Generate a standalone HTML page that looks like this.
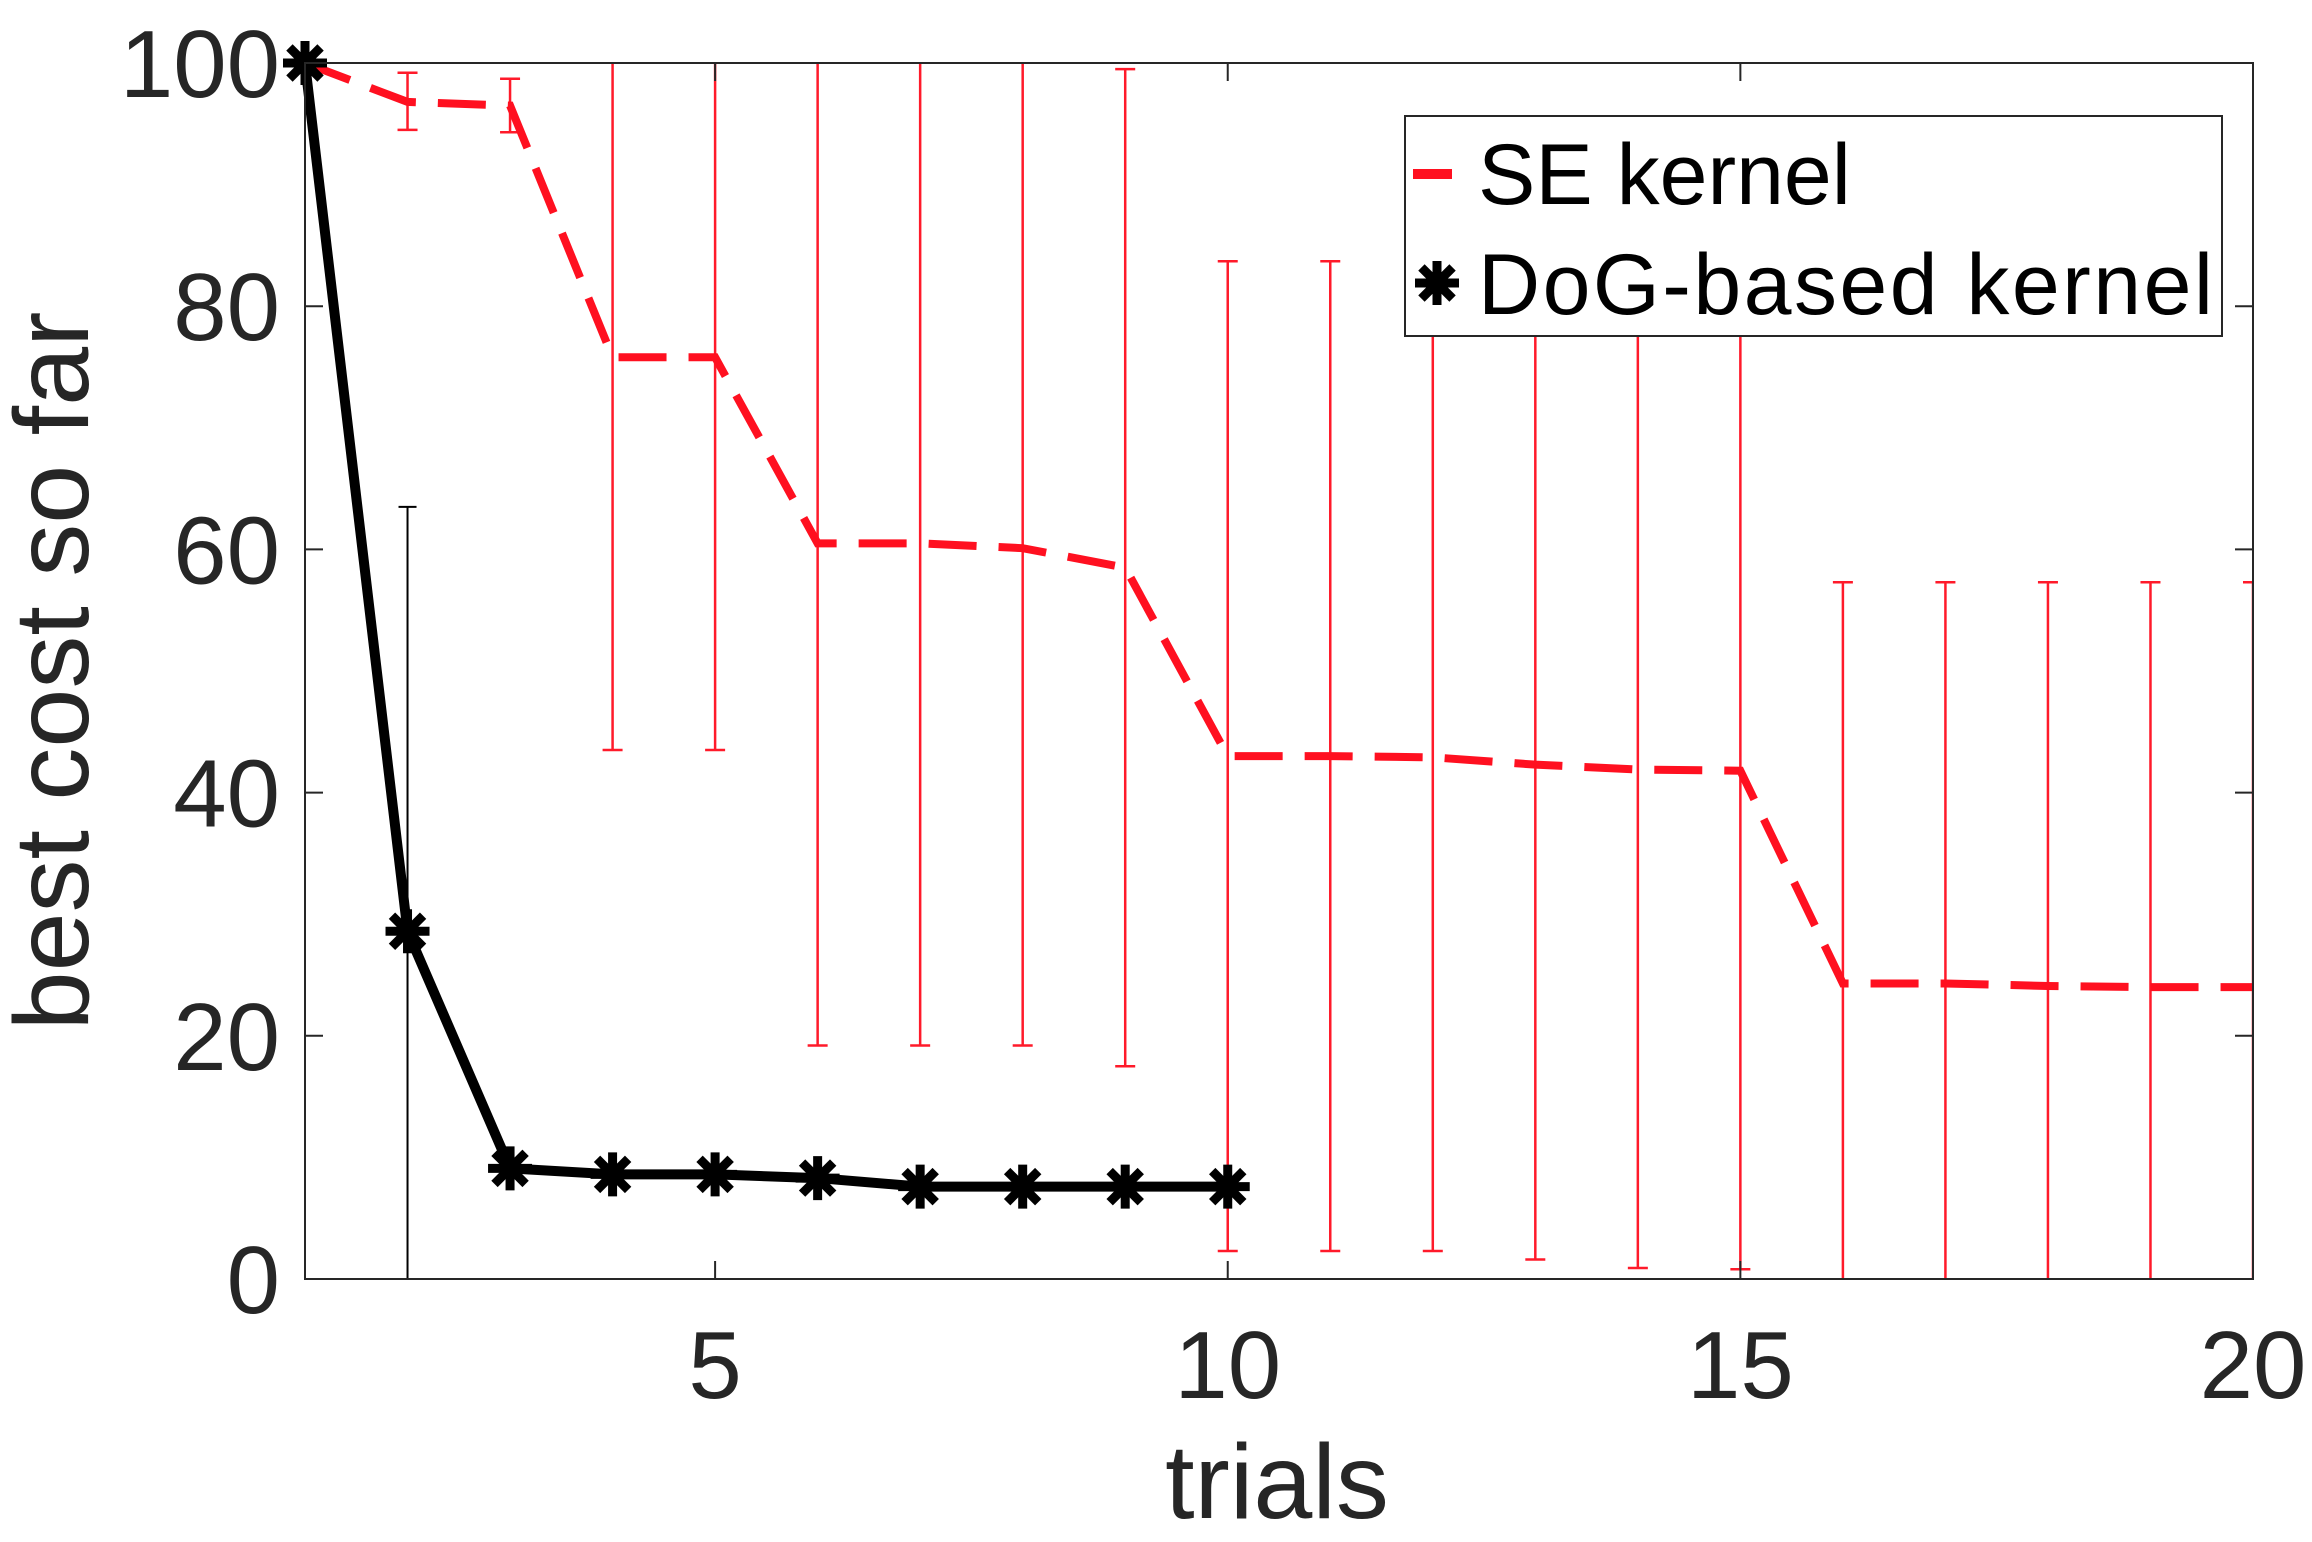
<!DOCTYPE html>
<html><head><meta charset="utf-8"><style>
html,body{margin:0;padding:0;background:#fff;}
svg{display:block;font-family:"Liberation Sans",Arial,sans-serif;}
</style></head><body>
<svg id="chart" width="2312" height="1542" viewBox="0 0 2312 1542" xmlns="http://www.w3.org/2000/svg">
<defs><clipPath id="plotclip"><rect x="305" y="63" width="1948" height="1216"/></clipPath></defs>
<g id="plot" clip-path="url(#plotclip)"></g>
<g id="axes"></g>
</svg>
<script>
const trials = [1,2,3,4,5,6,7,8,9,10,11,12,13,14,15,16,17,18,19,20];
const seMean = [100,96.8,96.5,75.8,75.8,60.5,60.5,60.1,58.5,43,43,42.9,42.3,41.9,41.8,24.3,24.3,24.1,24.0,24.0];
const seUpper = [100,99.2,98.7,108,108,102,102,101,99.5,83.7,83.7,83.5,83,83,82.8,57.3,57.3,57.3,57.3,57.3];
const seLower = [100,94.5,94.3,43.5,43.5,19.2,19.2,19.2,17.5,2.3,2.3,2.3,1.6,0.9,0.8,-8.7,-8.7,-9,-9,-9];
const dogTrials = [1,2,3,4,5,6,7,8,9,10];
const dogMean = [100,28.6,9.1,8.6,8.6,8.3,7.6,7.6,7.6,7.6];
const dogUpper = [100,63.5,9.1,8.6,8.6,8.3,7.6,7.6,7.6,7.6];
const dogLower = [100,-6,9.1,8.6,8.6,8.3,7.6,7.6,7.6,7.6];
const xTicks = [5,10,15,20];
const yTicks = [0,20,40,60,80,100];

const L=305,R=2253,T=63,B=1279;
const sx = v => L + (v-1)/(20-1)*(R-L);
const sy = v => B - v/100*(B-T);
const NS="http://www.w3.org/2000/svg";
const plot=document.getElementById('plot'), axes=document.getElementById('axes');
function mk(tag, attrs, parent){const e=document.createElementNS(NS,tag);for(const k in attrs)e.setAttribute(k,attrs[k]);parent.appendChild(e);return e;}

trials.forEach((t,i)=>{
  const g=mk('g',{},plot);
  
  
  const x=sx(t);
  mk('line',{x1:x,x2:x,y1:sy(seUpper[i]),y2:sy(seLower[i]),stroke:'#ff1a2a','stroke-width':2.5},g);
  mk('line',{x1:x-10,x2:x+10,y1:sy(seUpper[i]),y2:sy(seUpper[i]),stroke:'#ff1a2a','stroke-width':2.5},g);
  mk('line',{x1:x-10,x2:x+10,y1:sy(seLower[i]),y2:sy(seLower[i]),stroke:'#ff1a2a','stroke-width':2.5},g);
});
dogTrials.forEach((t,i)=>{
  if(dogUpper[i]-dogLower[i]<1) return;
  const g=mk('g',{},plot);
  
  
  const x=sx(t);
  mk('line',{x1:x,x2:x,y1:sy(dogUpper[i]),y2:sy(dogLower[i]),stroke:'#000','stroke-width':2},g);
  mk('line',{x1:x-9,x2:x+9,y1:sy(dogUpper[i]),y2:sy(dogUpper[i]),stroke:'#000','stroke-width':2},g);
});
const sePath=mk('polyline',{points:trials.map((t,i)=>sx(t)+','+sy(seMean[i])).join(' '),fill:'none',stroke:'#ff1020','stroke-width':8,'stroke-dasharray':'48 22'},plot);


const dogPath=mk('polyline',{points:dogTrials.map((t,i)=>sx(t)+','+sy(dogMean[i])).join(' '),fill:'none',stroke:'#000','stroke-width':10,'stroke-linejoin':'round'},axes);


function star(cx,cy,r,parent){
  const g=mk('g',{stroke:'#000','stroke-width':9},parent);
  for(let a=0;a<4;a++){const ang=a*Math.PI/4;mk('line',{x1:cx-r*Math.cos(ang),y1:cy-r*Math.sin(ang),x2:cx+r*Math.cos(ang),y2:cy+r*Math.sin(ang)},g);}
  return g;
}
dogTrials.forEach((t,i)=>{
  const g=star(sx(t),sy(dogMean[i]),22,axes);
  
  
});

const box=mk('rect',{x:L,y:T,width:R-L,height:B-T,fill:'none',stroke:'#262626','stroke-width':2},axes);


xTicks.forEach(v=>{
  const x=sx(v);
  mk('line',{x1:x,x2:x,y1:B,y2:B-18,stroke:'#262626','stroke-width':2},axes);
  mk('line',{x1:x,x2:x,y1:T,y2:T+18,stroke:'#262626','stroke-width':2},axes);
  const tx=mk('text',{x:x,y:1398,'text-anchor':'middle','font-size':96,fill:'#262626'},axes);
  tx.textContent=v;
  
  
});
yTicks.forEach(v=>{
  const y=sy(v);
  mk('line',{x1:L,x2:L+18,y1:y,y2:y,stroke:'#262626','stroke-width':2},axes);
  mk('line',{x1:R,x2:R-18,y1:y,y2:y,stroke:'#262626','stroke-width':2},axes);
  const tx=mk('text',{x:280,y:y+34,'text-anchor':'end','font-size':96,fill:'#262626'},axes);
  tx.textContent=v;
  
  
});
</script>
<script>
(function(){
const svg=document.getElementById('chart');
const NS="http://www.w3.org/2000/svg";
function mk(tag, attrs, parent){const e=document.createElementNS(NS,tag);for(const k in attrs)e.setAttribute(k,attrs[k]);parent.appendChild(e);return e;}
const xl=mk('text',{x:1277,y:1518,'text-anchor':'middle','font-size':106,fill:'#262626'},svg);
xl.textContent='trials';


const yl=mk('text',{x:0,y:0,'text-anchor':'middle','font-size':106,fill:'#262626',transform:'translate(88,671) rotate(-90)'},svg);
yl.textContent='best cost so far';


const lg=mk('g',{},svg);


mk('rect',{x:1405,y:116,width:817,height:220,fill:'#fff',stroke:'#262626','stroke-width':2},lg);
mk('line',{x1:1413,x2:1452,y1:174,y2:174,stroke:'#ff1020','stroke-width':10},lg);
const t1=mk('text',{x:1478,y:204,'font-size':86,fill:'#000'},lg);
t1.textContent='SE kernel';


const s=mk('g',{stroke:'#000','stroke-width':9},lg);
for(let a=0;a<4;a++){const ang=a*Math.PI/4;mk('line',{x1:1437-22*Math.cos(ang),y1:283-22*Math.sin(ang),x2:1437+22*Math.cos(ang),y2:283+22*Math.sin(ang)},s);}
const t2=mk('text',{x:1478,y:314,'font-size':86,fill:'#000',textLength:735},lg);
t2.textContent='DoG-based kernel';


})();
</script>
</body></html>
